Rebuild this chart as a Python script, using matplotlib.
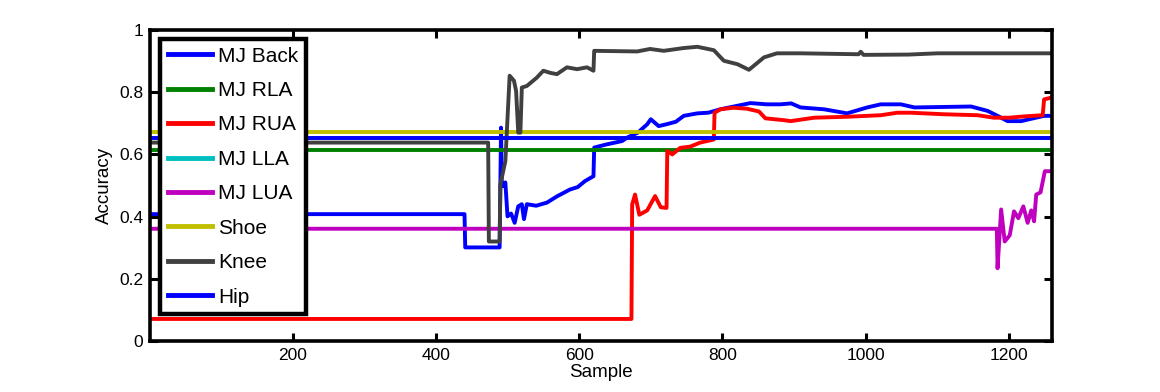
import matplotlib
matplotlib.use("Agg")
import matplotlib.pyplot as plt

# --- data (sample index, accuracy) ---
N_SAMPLES = 1260

back_x = [1, 440, 441, 489, 491, 492, 494, 497, 500, 505, 510, 515, 520, 523, 527, 540, 555, 569,
          587, 598, 608, 620, 621, 638, 660, 667, 682, 695, 700, 711, 722, 735, 746, 765, 780,
          797, 816, 839, 862, 881, 896, 909, 942, 974, 1002, 1021, 1049, 1068, 1147, 1170,
          1184, 1198, 1217, 1230, 1249, 1260]
back_y = [0.408, 0.408, 0.301, 0.301, 0.686, 0.50, 0.498, 0.51, 0.401, 0.41, 0.380, 0.433, 0.44,
          0.392, 0.44, 0.435, 0.445, 0.465, 0.487, 0.495, 0.514, 0.530, 0.622, 0.632, 0.643,
          0.654, 0.670, 0.697, 0.713, 0.691, 0.697, 0.705, 0.724, 0.732, 0.734, 0.745, 0.754,
          0.765, 0.761, 0.761, 0.764, 0.751, 0.745, 0.732, 0.751, 0.761, 0.761, 0.751, 0.754,
          0.740, 0.724, 0.707, 0.707, 0.714, 0.724, 0.724]

rla_x = [1, N_SAMPLES]
rla_y = [0.613, 0.613]

rua_x = [1, 673, 674, 678, 684, 695, 706, 714, 722, 723, 730, 741, 755, 769, 788, 789, 797,
         815, 834, 851, 860, 886, 895, 928, 974, 1021, 1044, 1063, 1110, 1156, 1179, 1200,
         1220, 1247, 1249, 1260]
rua_y = [0.071, 0.071, 0.439, 0.471, 0.406, 0.42, 0.466, 0.43, 0.428, 0.611, 0.60, 0.621,
         0.625, 0.638, 0.648, 0.734, 0.745, 0.750, 0.747, 0.738, 0.716, 0.710, 0.707, 0.718,
         0.721, 0.726, 0.734, 0.734, 0.729, 0.726, 0.718, 0.718, 0.722, 0.726, 0.777, 0.783]

lla_x = [1, N_SAMPLES]
lla_y = [0.652, 0.652]

lua_x = [1, 1183, 1184, 1189, 1194, 1201, 1207, 1213, 1220, 1226, 1231, 1235, 1238, 1244,
         1250, 1260]
lua_y = [0.361, 0.361, 0.234, 0.423, 0.320, 0.340, 0.417, 0.395, 0.433, 0.380, 0.420, 0.385,
         0.471, 0.478, 0.546, 0.546]

shoe_x = [1, N_SAMPLES]
shoe_y = [0.672, 0.672]

knee_x = [1, 473, 474, 489, 490, 494, 497, 503, 509, 512, 515, 518, 520, 527, 541, 550, 560,
          569, 583, 597, 611, 620, 621, 681, 699, 718, 746, 765, 788, 802, 821, 837, 858, 876,
          909, 990, 993, 997, 1060, 1100, 1260]
knee_y = [0.638, 0.638, 0.320, 0.320, 0.503, 0.546, 0.578, 0.853, 0.837, 0.804, 0.670, 0.670,
          0.815, 0.820, 0.847, 0.869, 0.862, 0.858, 0.880, 0.874, 0.880, 0.869, 0.933, 0.931,
          0.939, 0.933, 0.942, 0.946, 0.935, 0.901, 0.890, 0.872, 0.912, 0.925, 0.925, 0.922,
          0.930, 0.920, 0.921, 0.925, 0.925]

hip_x = [1, N_SAMPLES]
hip_y = [0.652, 0.652]

series = [
    ("MJ Back", back_x, back_y, (0, 0, 1)),
    ("MJ RLA", rla_x, rla_y, (0, 0.5, 0)),
    ("MJ RUA", rua_x, rua_y, (1, 0, 0)),
    ("MJ LLA", lla_x, lla_y, (0, 0.75, 0.75)),
    ("MJ LUA", lua_x, lua_y, (0.75, 0, 0.75)),
    ("Shoe", shoe_x, shoe_y, (0.75, 0.75, 0)),
    ("Knee", knee_x, knee_y, (0.25, 0.25, 0.25)),
    ("Hip", hip_x, hip_y, (0, 0, 1)),
]

plt.rcParams['font.family'] = ['Liberation Sans Narrow', 'Liberation Sans', 'DejaVu Sans']

fig = plt.figure(figsize=(11.6, 3.92), dpi=100)
ax = fig.add_axes([0.1293, 0.130, 0.7776, 0.7935])

for name, xs, ys, col in series:
    ax.plot(xs, ys, color=col, linewidth=2.8, label=name)

ax.set_xlim(1, N_SAMPLES)
ax.set_ylim(0, 1)
ax.set_xticks([200, 400, 600, 800, 1000, 1200])
ax.set_yticks([0, 0.2, 0.4, 0.6, 0.8, 1])
ax.set_yticklabels(['0', '0.2', '0.4', '0.6', '0.8', '1'])
ax.tick_params(direction='in', top=True, right=True, length=6, width=2.2,
               labelsize=12.5, pad=5)
for sp in ax.spines.values():
    sp.set_linewidth(2.6)

ax.set_xlabel('Sample', fontsize=13.5, labelpad=1)
ax.set_ylabel('Accuracy', fontsize=13.5, labelpad=4)

leg = ax.legend(loc='upper left', bbox_to_anchor=(0.011, 0.972), borderaxespad=0,
                fontsize=15, handlelength=2.1, handletextpad=0.3, labelspacing=0.74,
                fancybox=False, framealpha=1, borderpad=0.38)
leg.get_frame().set_edgecolor('black')
leg.get_frame().set_linewidth(3.2)
for line in leg.get_lines():
    line.set_linewidth(3.5)

fig.savefig('out.png', dpi=100)
